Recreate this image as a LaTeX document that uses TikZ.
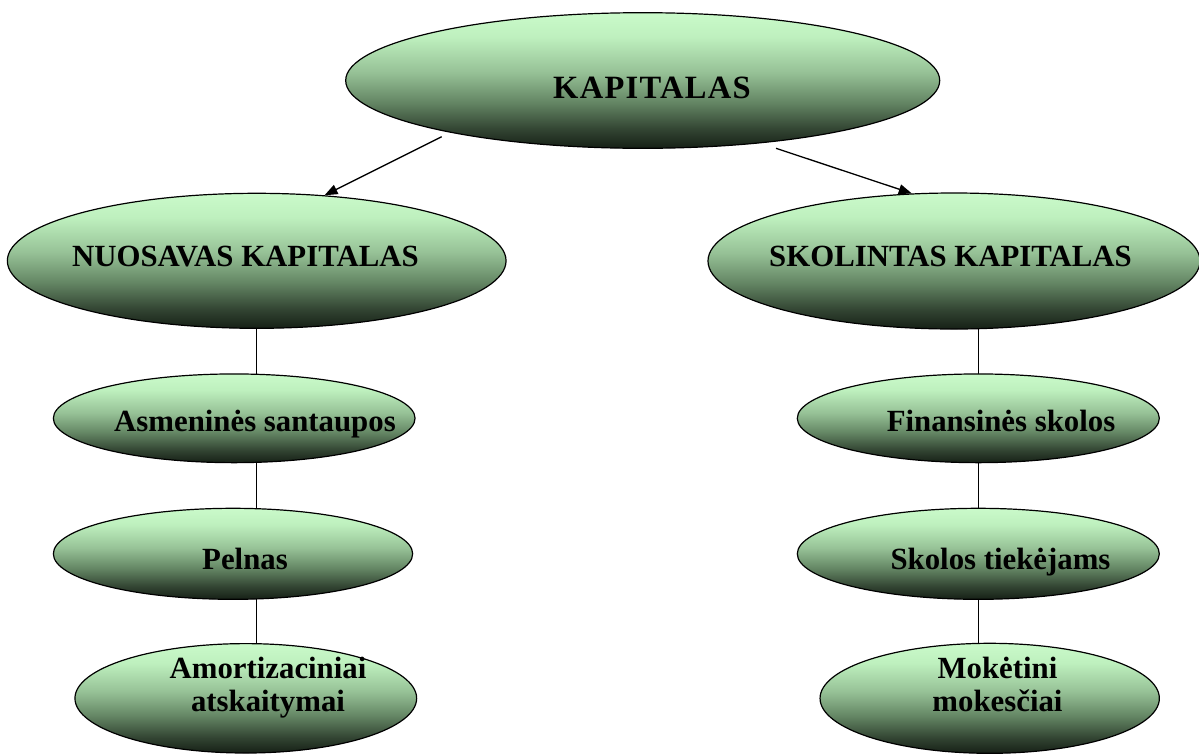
\documentclass[tikz,border=0pt]{standalone}
\usepackage{fontspec}
\setmainfont{Liberation Serif}
\usetikzlibrary{shapes.geometric,arrows.meta,backgrounds}

% mint-to-dark vertical fill of the ellipses
\definecolor{gA}{RGB}{22,32,22}
\definecolor{gB}{RGB}{50,68,50}
\definecolor{gC}{RGB}{100,134,100}
\definecolor{gD}{RGB}{150,193,150}
\definecolor{gE}{RGB}{190,240,190}
\definecolor{gF}{RGB}{202,250,202}
\pgfdeclareverticalshading{mint}{100bp}{color(0bp)=(gA); color(25bp)=(gA); color(32bp)=(gB); color(42bp)=(gC); color(53bp)=(gD); color(66bp)=(gE); color(75bp)=(gF); color(100bp)=(gF)}

\tikzset{
  bubble/.style={ellipse, draw=black, line width=1.2pt, shading=mint, inner sep=0pt},
  lbl/.style={font=\bfseries\fontsize{30.8}{33}\selectfont, anchor=base, align=center, inner sep=0pt},
  toplbl/.style={font=\bfseries\fontsize{32.5}{36}\selectfont, anchor=base, inner sep=0pt},
  link/.style={line width=1pt},
  arrowline/.style={line width=1.3pt, -{Triangle[length=13pt,width=10pt]}}
}

\begin{document}
\begin{tikzpicture}[x=1pt, y=-1pt]
  \begin{pgfonlayer}{background}
    \fill[white] (0,0) rectangle (1199,753);
  \end{pgfonlayer}
  \useasboundingbox (0,0) rectangle (1199,753);

  % ellipses
  \node[bubble, minimum width=594pt,   minimum height=135.6pt] (kap) at (642.7,80.5) {};
  \node[bubble, minimum width=498.7pt, minimum height=135pt]   (nuo) at (256.7,260.8) {};
  \node[bubble, minimum width=492pt,   minimum height=136pt]   (sko) at (954,261) {};
  \node[bubble, minimum width=361.7pt, minimum height=88.7pt]  (asm) at (234.2,418.3) {};
  \node[bubble, minimum width=359.3pt, minimum height=91pt]    (pel) at (233,553.8) {};
  \node[bubble, minimum width=341.7pt, minimum height=109.4pt] (amo) at (245.8,698.3) {};
  \node[bubble, minimum width=362pt,   minimum height=88.7pt]  (fin) at (978.3,418.3) {};
  \node[bubble, minimum width=362pt,   minimum height=91pt]    (tie) at (978.3,553.8) {};
  \node[bubble, minimum width=339.3pt, minimum height=110pt]   (mok) at (989.7,698.3) {};

  % labels (two-line labels sit on the baseline of their last line)
  \node[toplbl] (kapT) at (652,98.3) {\addfontfeature{LetterSpace=4}KAPITALAS};
  \node[lbl] (nuoT) at (245.4,266.7) {NUOSAVAS KAPITALAS};
  \node[lbl] (skoT) at (950.5,266.7) {SKOLINTAS KAPITALAS};
  \node[lbl] (asmT) at (255,431.7) {Asmeninės santaupos};
  \node[lbl] (finT) at (1001,431.7) {Finansinės skolos};
  \node[lbl] (pelT) at (245,569) {Pelnas};
  \node[lbl] (tieT) at (1000.5,569) {Skolos tiekėjams};
  \node[lbl] (amoT) at (268,711) {Amortizaciniai\\atskaitymai};
  \node[lbl] (mokT) at (997.5,711) {Mokėtini\\mokesčiai};

  % vertical links, kept under the ellipses
  \begin{pgfonlayer}{background}
    \draw[link] (nuo.center) -- (nuo.center |- asm.center);
    \draw[link] (nuo.center |- asm.center) -- (nuo.center |- pel.center);
    \draw[link] (nuo.center |- pel.center) -- (nuo.center |- amo.center);
    \draw[link] (fin.center |- sko.center) -- (fin.center);
    \draw[link] (fin.center) -- (tie.center);
    \draw[link] (tie.center) -- (tie.center |- mok.center);
  \end{pgfonlayer}

  % arrows from the top ellipse
  \coordinate (kapL) at (441.7,136.7);
  \coordinate (kapR) at (776,148.3);
  \draw[arrowline] (kapL) -- (nuo.44);
  \draw[arrowline] (kapR) -- (sko.122);
\end{tikzpicture}
\end{document}
